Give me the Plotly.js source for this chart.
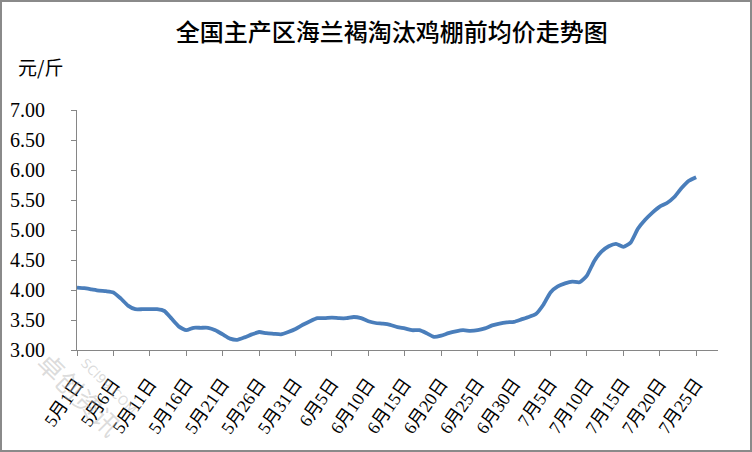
<!DOCTYPE html>
<html>
<head>
<meta charset="utf-8">
<script src="https://cdn.plot.ly/plotly-3.0.1.min.js"></script>
<style>
  html, body { margin: 0; padding: 0; background: #ffffff; }
  #chart { position: absolute; left: 0; top: 0; width: 752px; height: 452px; }
  #frame { position: absolute; left: 0; top: 0; width: 752px; height: 452px; box-sizing: border-box; border: 2px solid #8a8a8a; pointer-events: none; }
</style>
</head>
<body>
<div id="chart"></div>
<div id="frame"></div>
<script>
// Categories (daily dates)
const dates = [
  "5月1日","5月2日","5月3日","5月4日","5月5日","5月6日","5月7日","5月8日","5月9日","5月10日",
  "5月11日","5月12日","5月13日","5月14日","5月15日","5月16日","5月17日","5月18日","5月19日","5月20日",
  "5月21日","5月22日","5月23日","5月24日","5月25日","5月26日","5月27日","5月28日","5月29日","5月30日",
  "5月31日","6月1日","6月2日","6月3日","6月4日","6月5日","6月6日","6月7日","6月8日","6月9日",
  "6月10日","6月11日","6月12日","6月13日","6月14日","6月15日","6月16日","6月17日","6月18日","6月19日",
  "6月20日","6月21日","6月22日","6月23日","6月24日","6月25日","6月26日","6月27日","6月28日","6月29日",
  "6月30日","7月1日","7月2日","7月3日","7月4日","7月5日","7月6日","7月7日","7月8日","7月9日",
  "7月10日","7月11日","7月12日","7月13日","7月14日","7月15日","7月16日","7月17日","7月18日","7月19日",
  "7月20日","7月21日","7月22日","7月23日","7月24日","7月25日"
];

// Average pre-shed price (元/斤)
const prices = [
  4.04, 4.03, 4.01, 3.99, 3.98, 3.96, 3.86, 3.74, 3.68, 3.68,
  3.68, 3.68, 3.65, 3.52, 3.39, 3.33, 3.37, 3.37, 3.37, 3.33,
  3.26, 3.19, 3.17, 3.21, 3.26, 3.30, 3.28, 3.27, 3.26, 3.30,
  3.35, 3.42, 3.48, 3.53, 3.53, 3.54, 3.53, 3.53, 3.55, 3.53,
  3.48, 3.45, 3.44, 3.42, 3.38, 3.36, 3.33, 3.33, 3.28, 3.22,
  3.24, 3.28, 3.31, 3.33, 3.32, 3.33, 3.36, 3.41, 3.44, 3.46,
  3.47, 3.51, 3.55, 3.60, 3.75, 3.96, 4.06, 4.11, 4.14, 4.13,
  4.24, 4.48, 4.64, 4.73, 4.77, 4.72, 4.79, 5.02, 5.17, 5.29,
  5.39, 5.45, 5.55, 5.70, 5.82, 5.88
];

// Tick labels on the x axis
const xTickLabels = [
  "5月1日","5月6日","5月11日","5月16日","5月21日","5月26日","5月31日","6月5日","6月10日",
  "6月15日","6月20日","6月25日","6月30日","7月5日","7月10日","7月15日","7月20日","7月25日"
];
const yTickVals = [3.0, 3.5, 4.0, 4.5, 5.0, 5.5, 6.0, 6.5, 7.0];
const yTickText = ["3.00","3.50","4.00","4.50","5.00","5.50","6.00","6.50","7.00"];

const titleText = "全国主产区海兰褐淘汰鸡棚前均价走势图";
const unitText = "元/斤";
const watermarkCN = "卓创资讯";
const watermarkEN = "SCI99.COM";

const serifCJK = "'Liberation Serif', 'Noto Sans CJK SC', serif";

const trace = {
  x: dates,
  y: prices,
  type: "scatter",
  mode: "lines",
  line: { color: "#4A7EBB", width: 3.8, shape: "spline", smoothing: 0.5 },
  hoverinfo: "x+y"
};

const layout = {
  width: 752,
  height: 452,
  margin: { l: 77, r: 34, t: 110, b: 102, pad: 0 },
  paper_bgcolor: "#ffffff",
  plot_bgcolor: "#ffffff",
  showlegend: false,
  font: { family: serifCJK, color: "#000000", size: 16 },
  title: {
    text: titleText,
    font: { family: "'Noto Sans CJK SC', sans-serif", size: 24, color: "#000000", weight: 500 },
    xref: "container", yref: "container",
    x: 0.521, y: 0.927, xanchor: "center", yanchor: "middle"
  },
  xaxis: {
    type: "category",
    range: [0, 88],
    tickmode: "array",
    tickvals: xTickLabels,
    ticktext: xTickLabels,
    tickangle: -55,
    ticks: "outside",
    ticklen: 5,
    tickcolor: "#868686",
    tickwidth: 1,
    ticklabelstandoff: 10,
    showline: true,
    linecolor: "#868686",
    linewidth: 1,
    showgrid: false,
    zeroline: false,
    tickfont: { family: serifCJK, size: 18, color: "#000000" },
    fixedrange: true
  },
  yaxis: {
    range: [3, 7],
    tickmode: "array",
    tickvals: yTickVals,
    ticktext: yTickText,
    ticks: "outside",
    ticklen: 5,
    tickcolor: "#868686",
    tickwidth: 1,
    ticklabelstandoff: 22,
    showline: true,
    linecolor: "#868686",
    linewidth: 1,
    showgrid: false,
    zeroline: false,
    tickfont: { family: serifCJK, size: 20, color: "#000000" },
    fixedrange: true
  },
  annotations: [
    {
      text: unitText,
      xref: "paper", yref: "paper",
      x: -0.095, y: 1.18,
      xanchor: "left", yanchor: "middle",
      showarrow: false,
      font: { family: "'Noto Sans CJK SC', sans-serif", size: 19, color: "#000000" }
    },
    {
      text: watermarkCN,
      xref: "paper", yref: "paper",
      x: 0.005, y: -0.18,
      xanchor: "center", yanchor: "middle",
      textangle: 45,
      showarrow: false,
      font: { family: "'Noto Sans CJK SC', sans-serif", size: 26, color: "rgba(175,175,175,0.45)" }
    },
    {
      text: watermarkEN,
      xref: "paper", yref: "paper",
      x: 0.05, y: -0.15,
      xanchor: "center", yanchor: "middle",
      textangle: 45,
      showarrow: false,
      font: { family: "'DejaVu Sans', sans-serif", size: 13, color: "rgba(175,175,175,0.45)" }
    }
  ]
};

Plotly.newPlot("chart", [trace], layout, { displayModeBar: false, staticPlot: true });
</script>
</body>
</html>
